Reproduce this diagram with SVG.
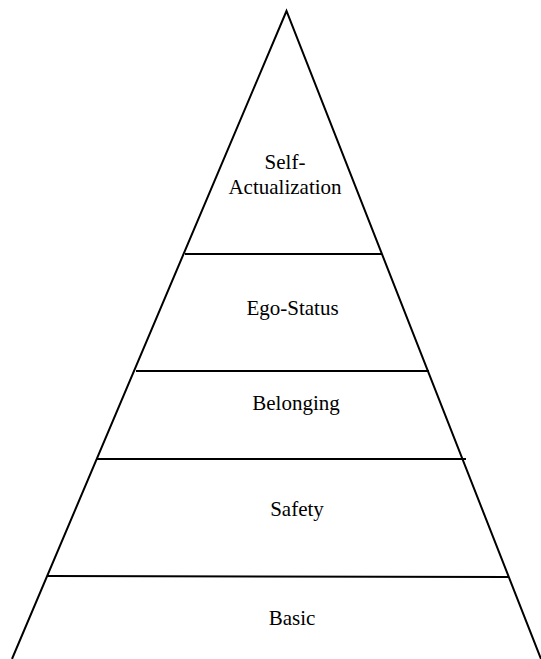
<svg xmlns="http://www.w3.org/2000/svg" width="541" height="659" viewBox="0 0 541 659">
<style>
.ln{stroke:#000;stroke-width:2;fill:none;stroke-linecap:butt}
.lbl{font-size:21px;fill:#000;text-anchor:middle}
</style>
<rect width="541" height="659" fill="#fff"/>
<g id="connectors">
<polyline class="ln" points="12,659 286.5,11 541,659"/>
<line class="ln" x1="185" y1="254" x2="382" y2="254"/>
<line class="ln" x1="136" y1="371" x2="429" y2="371"/>
<line class="ln" x1="97" y1="459" x2="466" y2="459"/>
<line class="ln" x1="48" y1="576" x2="509" y2="577"/>
</g>
<g id="labels" font-family="Liberation Serif, Times New Roman, DejaVu Serif, serif">
<g id="self-actualization"><text class="lbl" x="285" y="169">Self-</text><text class="lbl" x="285" y="194">Actualization</text></g>
<g id="ego-status"><text class="lbl" x="292.5" y="315">Ego-Status</text></g>
<g id="belonging"><text class="lbl" x="296" y="410">Belonging</text></g>
<g id="safety"><text class="lbl" x="297" y="516">Safety</text></g>
<g id="basic"><text class="lbl" x="292" y="625">Basic</text></g>
</g>
</svg>
